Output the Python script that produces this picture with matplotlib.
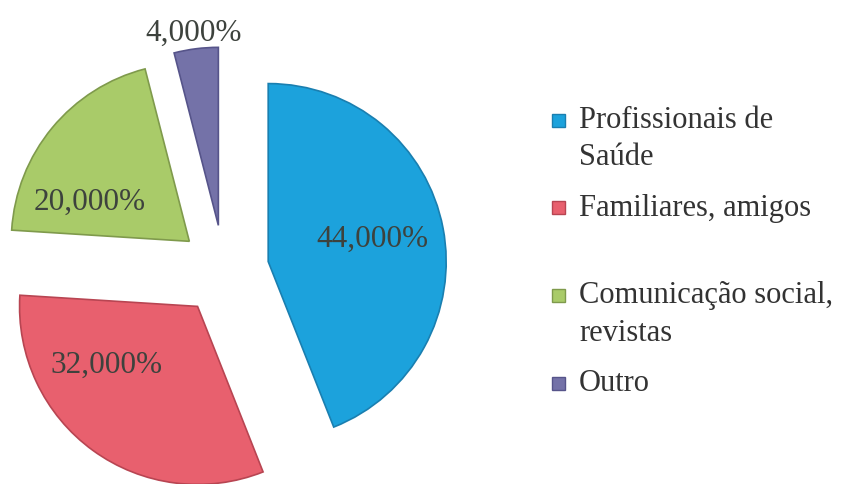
import math
import matplotlib
matplotlib.use('Agg')
import matplotlib.pyplot as plt
from matplotlib.patches import Rectangle

# fontes de informação
categorias = ['Profissionais de\nSaúde', 'Familiares, amigos',
              'Comunicação social,\nrevistas', 'Outro']
valores = [44, 32, 20, 4]
cores = ['#1ca2dc', '#e8606e', '#a9cb69', '#7472a8']
bordas = ['#1a7fb0', '#b84552', '#7f9a4c', '#56548a']

plt.rcParams['font.family'] = ['Liberation Serif', 'DejaVu Serif']

fig = plt.figure(figsize=(8.48, 4.84), dpi=100)
ax = fig.add_axes([0, 0, 1, 1])

raio = 178
centro = (224, 214)
wedges, textos, pcts = ax.pie(
    valores, colors=cores, startangle=90, counterclock=False,
    radius=raio, center=centro, explode=[45] * len(valores),
    autopct=lambda p: f'{p:.3f}%'.replace('.', ','), pctdistance=0.6,
    textprops=dict(fontsize=22.5, color='#3d423d'),
    wedgeprops=dict(linewidth=1.2))
for w, b in zip(wedges, bordas):
    w.set_edgecolor(b)

# posição das percentagens (desvio angular e distância relativa ao raio)
desvio = [1, -21, 18, 0]
dist = [0.6, 0.61, 0.6, 1.09]
for w, t, d, r in zip(wedges, pcts, desvio, dist):
    ang = math.radians((w.theta1 + w.theta2) / 2 + d)
    cx, cy = w.center
    t.set_position((cx + r * raio * math.cos(ang), cy + r * raio * math.sin(ang)))

ax.set_xlim(0, 848)
ax.set_ylim(0, 484)
ax.set_aspect('equal')
ax.axis('off')

# legenda à direita
y0 = 484 - 120
passo = 87.7
for i, (nome, cor, b) in enumerate(zip(categorias, cores, bordas)):
    y = y0 - i * passo
    ax.add_patch(Rectangle((552, y - 6.5), 13, 13, facecolor=cor,
                           edgecolor=b, linewidth=1))
    ax.text(579, y + 14, nome, fontsize=22, color='#333333',
            va='top', ha='left', linespacing=1.38)

fig.savefig('out.png', dpi=100)
